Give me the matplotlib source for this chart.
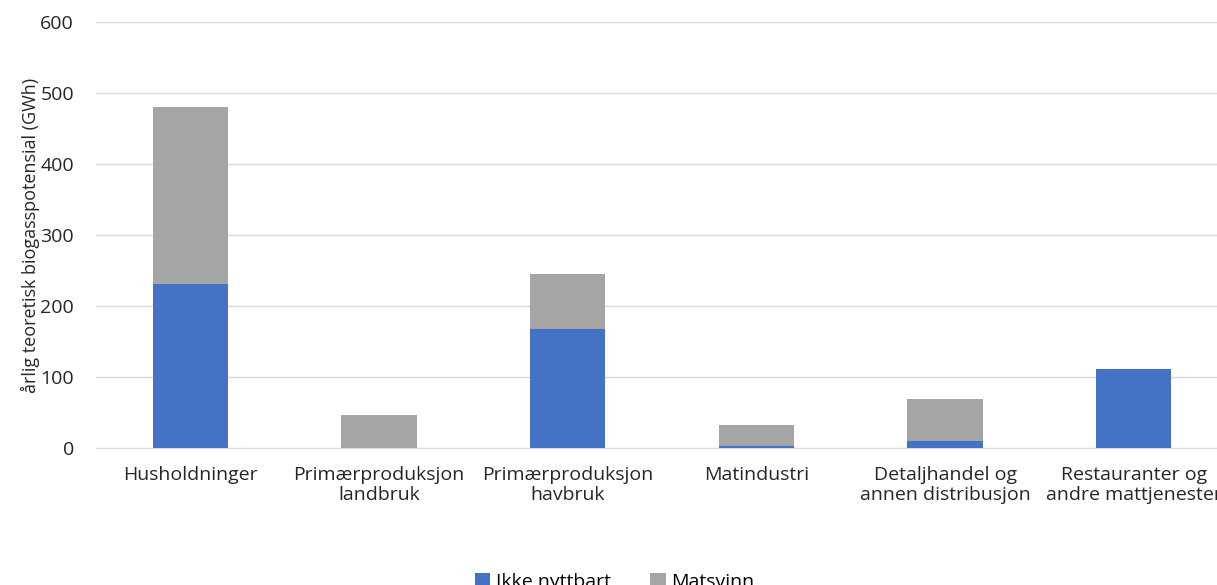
import matplotlib
matplotlib.use("Agg")
import matplotlib.pyplot as plt
import numpy as np

# data (GWh)
categories = ["Husholdninger", "Primærproduksjon\nlandbruk", "Primærproduksjon\nhavbruk",
              "Matindustri", "Detaljhandel og\nannen distribusjon", "Restauranter og\nandre mattjenester"]
ikke_nyttbart = [231, 0, 168, 3, 10, 111]
matsvinn = [249, 47, 77, 29, 59, 0]

plt.rcParams['font.family'] = ['Open Sans', 'DejaVu Sans']

fig = plt.figure(figsize=(12.17, 5.85), dpi=100)
# axes runs past the right edge, like the reference
ax = fig.add_axes([0.079, 0.234, 0.930, 0.728])

x = np.arange(len(categories))
ax.bar(x, ikke_nyttbart, width=0.4, color="#4472C4", label="Ikke nyttbart", zorder=3)
ax.bar(x, matsvinn, width=0.4, bottom=ikke_nyttbart, color="#A5A5A5", label="Matsvinn", zorder=3)

ax.set_xlim(-0.5, len(categories) - 0.5)
ax.set_ylim(0, 600)
ax.set_yticks(range(0, 601, 100))
ax.set_xticks(x)
ax.set_xticklabels(categories, fontsize=14, color="#262626", linespacing=1.15)
ax.tick_params(axis="y", labelsize=14, colors="#262626", length=0, pad=16)
ax.tick_params(axis="x", length=0, pad=13)
ax.yaxis.grid(True, color="#D9D9D9", linewidth=1, zorder=0)
for s in ["top", "right", "left"]:
    ax.spines[s].set_visible(False)
ax.spines["bottom"].set_color("#D9D9D9")
ax.set_ylabel("årlig teoretisk biogasspotensial (GWh)", fontsize=13, color="#262626", labelpad=0)

fig.legend(loc="center", bbox_to_anchor=(0.505, 0.005), ncol=2, frameon=False,
           fontsize=14, handlelength=0.8, handleheight=0.8, columnspacing=2.0, handletextpad=0.3)

fig.savefig("out.png", dpi=100)
